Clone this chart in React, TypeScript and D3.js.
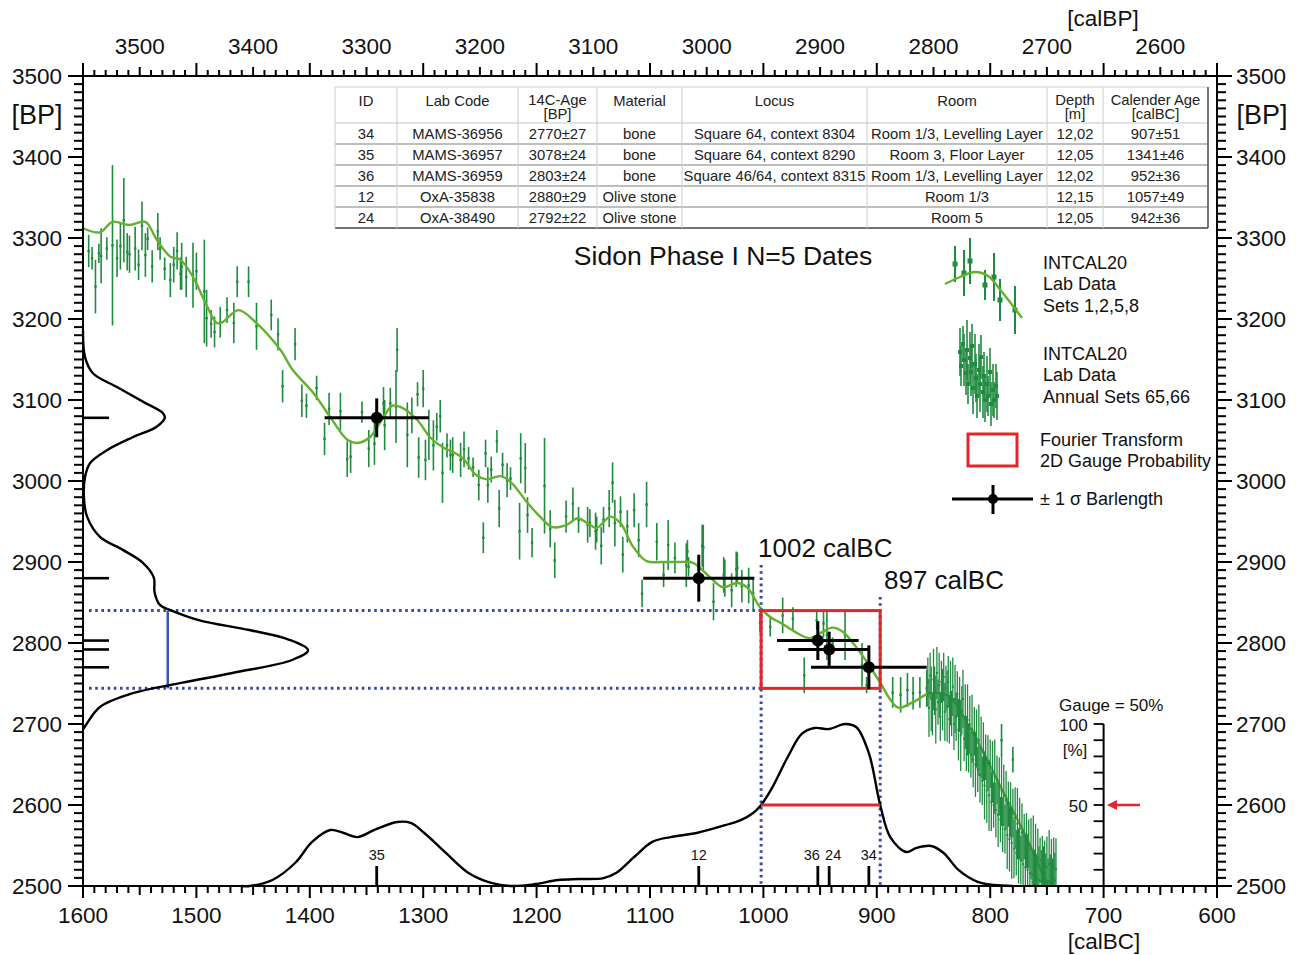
import React from 'react';
import * as d3 from 'd3';

const W = 1303, H = 955;
const FONT = "'Liberation Sans', Arial, Helvetica, sans-serif";

// ---------- axis labels ----------
const calBCTicks = [1600, 1500, 1400, 1300, 1200, 1100, 1000, 900, 800, 700, 600];
const calBPTicks = [3500, 3400, 3300, 3200, 3100, 3000, 2900, 2800, 2700, 2600];
const bpTicks = [2500, 2600, 2700, 2800, 2900, 3000, 3100, 3200, 3300, 3400, 3500];
const gaugeLabels = [100, 50];

// ---------- INTCAL20 smoothed curve ----------
const curveBC = [1600, 1585, 1574, 1559, 1545, 1535, 1523, 1514, 1503, 1492, 1482, 1477, 1463, 1447, 1426, 1415, 1397, 1382, 1367, 1358, 1347, 1335, 1327, 1318, 1305, 1294, 1282, 1274, 1265, 1253, 1244, 1232, 1223, 1208, 1197, 1186, 1173, 1164, 1153, 1147, 1135, 1126, 1115, 1103, 1089, 1074, 1062, 1047, 1036, 1023, 1014, 1003, 994, 985, 970, 959, 950, 939, 930, 921, 908, 897, 888, 881, 868, 854, 844, 835, 822, 805, 787, 769, 756, 749];
const curveBP = [3312, 3307, 3320, 3316, 3320, 3298, 3277, 3273, 3252, 3220, 3195, 3196, 3211, 3195, 3162, 3137, 3109, 3079, 3051, 3047, 3054, 3079, 3093, 3090, 3075, 3054, 3041, 3036, 3028, 3007, 3002, 3006, 2999, 2973, 2956, 2943, 2946, 2954, 2946, 2942, 2956, 2948, 2919, 2901, 2900, 2900, 2899, 2881, 2869, 2874, 2868, 2844, 2832, 2825, 2812, 2806, 2812, 2819, 2814, 2800, 2775, 2751, 2730, 2720, 2727, 2738, 2738, 2733, 2705, 2662, 2612, 2563, 2522, 2502];

// ---------- INTCAL20 lab data sets 1,2,5,8: [calBC, BP, 1 sigma] ----------
const labSets: [number, number, number][] = [
  [1595, 3284, 20], [1592, 3275, 14], [1589, 3240, 33], [1586, 3281, 12], [1584, 3278, 34], [1579, 3287, 14],
  [1574, 3291, 99], [1570, 3275, 23], [1567, 3290, 29], [1564, 3322, 52], [1561, 3283, 23], [1559, 3280, 23],
  [1554, 3287, 27], [1551, 3267, 19], [1548, 3315, 30], [1545, 3279, 27], [1543, 3299, 14], [1539, 3265, 20],
  [1534, 3308, 23], [1532, 3287, 14], [1528, 3262, 14], [1523, 3248, 21], [1520, 3267, 22], [1517, 3284, 23],
  [1514, 3256, 20], [1513, 3265, 29], [1509, 3252, 25], [1503, 3254, 40], [1500, 3259, 23], [1493, 3234, 64],
  [1491, 3201, 35], [1487, 3194, 17], [1484, 3184, 19], [1479, 3196, 19], [1473, 3211, 16], [1467, 3195, 25],
  [1464, 3246, 19], [1454, 3246, 19], [1447, 3191, 29], [1434, 3205, 19], [1428, 3181, 20], [1413, 3169, 20],
  [1424, 3117, 20], [1407, 3099, 20], [1403, 3093, 15], [1394, 3115, 15], [1387, 3052, 20], [1383, 3089, 20],
  [1373, 3086, 23], [1367, 3027, 22], [1364, 3030, 20], [1354, 3085, 13], [1348, 3040, 23], [1343, 3046, 26],
  [1335, 3096, 20], [1334, 3069, 31], [1329, 3096, 19], [1324, 3092, 45], [1323, 3162, 27], [1314, 3057, 40],
  [1310, 3081, 22], [1305, 3107, 15], [1300, 3114, 23], [1304, 3029, 25], [1298, 3026, 25], [1295, 3057, 31],
  [1291, 3044, 31], [1288, 3067, 17], [1285, 3080, 20], [1283, 3010, 37], [1279, 3044, 15], [1276, 3032, 19],
  [1274, 3032, 22], [1267, 3026, 21], [1264, 3039, 22], [1260, 3028, 14], [1256, 3017, 12], [1251, 2995, 19],
  [1247, 2930, 19], [1245, 3034, 17], [1243, 2995, 22], [1240, 3014, 16], [1235, 3049, 14], [1233, 2966, 23],
  [1230, 3020, 15], [1226, 3001, 21], [1223, 3003, 14], [1215, 2938, 35], [1214, 3028, 31], [1210, 3016, 31],
  [1208, 2958, 22], [1204, 2924, 18], [1193, 2994, 59], [1188, 2941, 23], [1184, 2902, 22], [1174, 2956, 20],
  [1168, 2972, 20], [1163, 2952, 16], [1155, 2946, 22], [1153, 2948, 17], [1148, 2938, 23], [1147, 2940, 16],
  [1143, 2920, 23], [1141, 2952, 16], [1136, 2966, 23], [1133, 2998, 25], [1131, 2948, 29], [1126, 2962, 19],
  [1124, 2909, 22], [1120, 2944, 20], [1114, 2964, 21], [1110, 2927, 21], [1107, 2861, 17], [1103, 2971, 28],
  [1094, 2925, 23], [1088, 2884, 15], [1084, 2921, 31], [1078, 2905, 19], [1068, 2896, 27], [1066, 2894, 12],
  [1054, 2920, 26], [1044, 2851, 23], [1034, 2880, 23], [1028, 2865, 21], [1024, 2891, 22], [1019, 2870, 20],
  [1009, 2861, 20], [1067, 2913, 14], [1053, 2918, 28], [1035, 2884, 22], [1023, 2893, 19], [1013, 2871, 22],
  [1003, 2825, 12], [994, 2820, 12], [983, 2834, 22], [974, 2830, 14], [964, 2760, 22], [953, 2828, 12],
  [947, 2824, 17], [944, 2810, 31], [939, 2799, 8], [928, 2810, 31], [913, 2773, 27], [909, 2748, 10],
  [886, 2739, 19], [879, 2736, 22], [873, 2742, 21], [868, 2738, 20], [862, 2739, 19], [856, 2744, 23],
  [790, 2680, 20], [780, 2656, 16],
];

// ---------- INTCAL20 annual sets 65,66: [calBC, BP, 1 sigma] ----------
const annualSets: [number, number, number][] = [
  [855, 2752, 30], [854, 2720, 36], [853, 2760, 28], [852, 2731, 40], [851, 2712, 26], [850, 2755, 38], [849, 2741, 30],
  [848, 2718, 42], [847, 2763, 32], [846, 2727, 28], [845, 2748, 40], [844, 2709, 30], [843, 2752, 26], [842, 2730, 38],
  [841, 2758, 30], [840, 2715, 36], [839, 2744, 28], [838, 2722, 44], [837, 2752, 32], [836, 2706, 30], [835, 2738, 40],
  [834, 2713, 28], [833, 2746, 36], [832, 2700, 32], [831, 2731, 42], [830, 2709, 30], [829, 2737, 28], [828, 2693, 38],
  [827, 2724, 34], [826, 2686, 44], [825, 2717, 30], [824, 2731, 36], [823, 2682, 28], [822, 2709, 40], [821, 2676, 34],
  [820, 2705, 44], [819, 2670, 30], [818, 2699, 36], [817, 2662, 28], [816, 2694, 42], [815, 2656, 34], [814, 2691, 30],
  [813, 2650, 40], [812, 2682, 36], [811, 2644, 28], [810, 2680, 44], [809, 2637, 34], [808, 2671, 38], [807, 2630, 30],
  [806, 2666, 36], [805, 2624, 42], [804, 2659, 28], [803, 2618, 40], [802, 2652, 34], [801, 2612, 44], [800, 2651, 30],
  [799, 2604, 36], [798, 2641, 38], [797, 2600, 28], [796, 2635, 46], [795, 2594, 34], [794, 2631, 30], [793, 2588, 40],
  [792, 2623, 36], [791, 2582, 28], [790, 2618, 44], [789, 2576, 34], [788, 2612, 38], [787, 2570, 30], [786, 2606, 36],
  [785, 2563, 42], [784, 2601, 28], [783, 2558, 40], [782, 2594, 34], [781, 2553, 44], [780, 2590, 30], [779, 2546, 36],
  [778, 2584, 38], [777, 2541, 28], [776, 2577, 44], [775, 2537, 34], [774, 2571, 38], [773, 2532, 30], [772, 2566, 36],
  [771, 2527, 42], [770, 2561, 28], [769, 2523, 40], [768, 2556, 34], [767, 2520, 44], [766, 2552, 30], [765, 2516, 36],
  [764, 2546, 38], [763, 2514, 28], [762, 2543, 44], [761, 2511, 34], [760, 2539, 38], [759, 2509, 30], [758, 2535, 36],
  [757, 2507, 42], [756, 2532, 28], [755, 2506, 38], [754, 2528, 34], [753, 2505, 44], [752, 2526, 30], [751, 2504, 36],
  [750, 2523, 38], [749, 2506, 28], [748, 2527, 42], [747, 2505, 34], [746, 2520, 38], [745, 2504, 30], [744, 2524, 36],
  [743, 2507, 34], [742, 2521, 38],
];

// ---------- dates ----------
const dateIds = ['34', '35', '36', '12', '24'];
const labCodes = ['MAMS-36956', 'MAMS-36957', 'MAMS-36959', 'OxA-35838', 'OxA-38490'];
const c14Age = [2770, 3078, 2803, 2880, 2792];
const c14Err = [27, 24, 24, 29, 22];
const materials = ['bone', 'bone', 'bone', 'Olive stone', 'Olive stone'];
const loci = ['Square 64, context 8304', 'Square 64, context 8290', 'Square 46/64, context 8315', '', ''];
const rooms = ['Room 1/3, Levelling Layer', 'Room 3, Floor Layer', 'Room 1/3, Levelling Layer', 'Room 1/3', 'Room 5'];
const depths = ['12,02', '12,05', '12,02', '12,15', '12,05'];
const calAge = [907, 1341, 952, 1057, 942];
const calErr = [51, 46, 36, 49, 36];
const headers = [['ID'], ['Lab Code'], ['14C-Age', '[BP]'], ['Material'], ['Locus'], ['Room'], ['Depth', '[m]'], ['Calender Age', '[calBC]']];

// ---------- summed 14C probability (left, % of max) ----------
const leftBP = [3186, 3153, 3133, 3116, 3098, 3084, 3078, 3067, 3054, 3038, 3022, 3005, 2980, 2956, 2931, 2915, 2899, 2881, 2862, 2847, 2841, 2828, 2816, 2804, 2791, 2779, 2763, 2751, 2738, 2721, 2701, 2693];
const leftPct = [0, 0.9, 4.4, 15.0, 26.5, 35.3, 36.2, 32.6, 22.0, 10.6, 3.1, 0.9, 0.4, 1.8, 7.5, 17.6, 26.5, 31.3, 31.7, 34.0, 38.4, 51.6, 73.6, 91.3, 99.6, 92.5, 66.1, 44.1, 22.0, 7.5, 1.8, 0];

// ---------- Fourier gauge probability (bottom, %) ----------
const sumBC = [1460, 1453, 1433, 1413, 1398, 1382, 1370, 1358, 1343, 1323, 1311, 1299, 1280, 1260, 1240, 1221, 1201, 1181, 1162, 1141, 1130, 1114, 1098, 1082, 1059, 1033, 1020, 1009, 1002, 992, 979, 966, 955, 942, 928, 918, 907, 897, 888, 874, 865, 852, 841, 828, 811, 797, 780];
const sumPct = [0, 0, 3.7, 14.2, 27.2, 34.6, 32.7, 30.2, 34.6, 39.5, 38.9, 32.7, 20.4, 8.0, 1.9, 0, 1.2, 3.7, 4.3, 4.9, 8.0, 17.9, 27.2, 30.2, 32.7, 37.7, 40.7, 45.1, 50, 61, 79, 94, 97.5, 96.9, 100, 98, 82, 50, 30, 21, 23.5, 24.7, 20.4, 9.9, 2.5, 0.6, 0];

const rangeBC = [1002, 897];
const rangeBP = [2840, 2744];
const gaugeValue = 50;
const blueLineBP = [2840, 2744];
const blueLinePct = 37.5;

// ---------- legend icon samples (pixel layout of the legend glyphs) ----------
const legendSetBars: [number, number, number][] = [
  [955, 264, 18], [964, 273, 23], [970, 261, 23], [985, 285, 15], [994, 277, 24], [1000, 300, 21], [1015, 310, 24],
];
const legendSetCurve: [number, number][] = [[945, 284], [960, 277], [975, 272], [988, 276], [1002, 292], [1022, 318]];
const legendAnnual: [number, number, number][] = [
  [960, 352, 24], [961, 366, 20], [963, 344, 18], [964, 360, 26], [966, 373, 22], [967, 350, 30], [968, 384, 20],
  [970, 358, 26], [971, 372, 24], [972, 346, 22], [973, 388, 26], [975, 364, 30], [976, 378, 24], [977, 396, 22],
  [979, 370, 26], [980, 384, 28], [981, 357, 22], [983, 392, 26], [984, 376, 24], [985, 400, 22], [987, 384, 28],
  [988, 396, 20], [990, 372, 24], [991, 404, 22], [993, 390, 26], [994, 400, 18], [996, 386, 22], [997, 396, 24],
];

const GREEN = '#1f8b3f';
const LIME = '#62b22f';
const RED = '#e3262a';
const BLUE = '#3a47a6';

export default function App() {
  const L = 83, R = 1217, T = 76, B = 886;
  const x = d3.scaleLinear().domain([1600, 600]).range([L, R]);
  const xTop = d3.scaleLinear().domain([3550, 2550]).range([L, R]);
  const y = d3.scaleLinear().domain([2500, 3500]).range([B, T]);
  const dens = d3.scaleLinear().domain([0, 100]).range([L, 309]);
  const yG = d3.scaleLinear().domain([0, 100]).range([B, 724]);

  const calLine = d3.line<number>().x((_, i) => x(curveBC[i])).y((_, i) => y(curveBP[i])).curve(d3.curveCatmullRom.alpha(0.5));
  const leftLine = d3.line<number>().x((_, i) => dens(leftPct[i])).y((_, i) => y(leftBP[i])).curve(d3.curveCatmullRom.alpha(0.5));
  const sumLine = d3.line<number>().x((_, i) => x(sumBC[i])).y((_, i) => yG(sumPct[i])).curve(d3.curveCatmullRom.alpha(0.5));
  const legLine = d3.line<[number, number]>().x(d => d[0]).y(d => d[1]).curve(d3.curveCatmullRom.alpha(0.5));

  const minorBC = d3.range(600, 1601, 10);
  const minorBP = d3.range(2500, 3501, 10);

  const txt = (props: any, s: string) => <text fontFamily={FONT} {...props}>{s}</text>;

  const colX = [335, 397, 518, 597, 682, 867, 1047, 1103, 1208];
  const headTop = 87, headBot = 123, rowH = 21;
  const rows = dateIds.map((id, i) => [id, labCodes[i], `${c14Age[i]}±${c14Err[i]}`, materials[i], loci[i], rooms[i], depths[i], `${calAge[i]}±${calErr[i]}`]);

  const labelOffsets: Record<string, number> = { '36': -6, '24': 4 };

  return (
    <svg width={W} height={H} viewBox={`0 0 ${W} ${H}`} style={{ position: 'absolute', left: 0, top: 0, background: '#fff' }}>
      <defs>
        <clipPath id="plot"><rect x={L} y={T} width={R - L} height={B - T} /></clipPath>
      </defs>
      <rect x={0} y={0} width={W} height={H} fill="#fff" />

      {/* table */}
      <g fontFamily={FONT} fontSize={14.8} fill="#222">
        <line x1={colX[0]} x2={colX[8]} y1={headTop} y2={headTop} stroke="#cfcfcf" strokeWidth={1.2} />
        <line x1={colX[0]} x2={colX[8]} y1={headBot} y2={headBot} stroke="#c8c8c8" strokeWidth={1.2} />
        {rows.map((_, i) => i < rows.length - 1 ? (
          <line key={'rl' + i} x1={colX[0]} x2={colX[8]} y1={headBot + rowH * (i + 1)} y2={headBot + rowH * (i + 1)} stroke="#a8a8a8" strokeWidth={1.6} />
        ) : null)}
        <line x1={colX[0]} x2={colX[8]} y1={headBot + rowH * 5} y2={headBot + rowH * 5} stroke="#444" strokeWidth={1.6} />
        {colX.map((cx, i) => (
          <line key={'cl' + i} x1={cx} x2={cx} y1={headTop} y2={headBot + rowH * 5} stroke={i === 8 ? '#555' : '#d0d0d0'} strokeWidth={i === 8 ? 1.6 : 1.1} />
        ))}
        {headers.map((h, i) => {
          const cx = (colX[i] + colX[i + 1]) / 2;
          return h.length === 1
            ? <text key={'h' + i} x={cx} y={101} textAnchor="middle" dominantBaseline="central">{h[0]}</text>
            : <g key={'h' + i}>
                <text x={cx} y={100} textAnchor="middle" dominantBaseline="central">{h[0]}</text>
                <text x={cx} y={114} textAnchor="middle" dominantBaseline="central">{h[1]}</text>
              </g>;
        })}
        {rows.map((r, i) => r.map((c, j) => (
          <text key={`c${i}-${j}`} x={(colX[j] + colX[j + 1]) / 2} y={headBot + rowH * i + rowH / 2 + 0.5} textAnchor="middle" dominantBaseline="central">{c}</text>
        )))}
      </g>

      {/* title */}
      {txt({ x: 723, y: 256, fontSize: 26.5, textAnchor: 'middle', dominantBaseline: 'central', fill: '#111' }, 'Sidon Phase I N=5 Dates')}

      {/* data bars */}
      <g clipPath="url(#plot)">
        {labSets.map((d, i) => (
          <g key={'ls' + i}>
            <line x1={x(d[0])} x2={x(d[0])} y1={y(d[1] - d[2])} y2={y(d[1] + d[2])} stroke={GREEN} strokeWidth={1.6} />
            <rect x={x(d[0]) - 1.2} y={y(d[1]) - 1.2} width={2.4} height={2.4} fill={GREEN} />
          </g>
        ))}
        <path d={calLine(curveBC) || ''} fill="none" stroke={LIME} strokeWidth={2.4} />
        {annualSets.map((d, i) => (
          <g key={'an' + i}>
            <line x1={x(d[0])} x2={x(d[0])} y1={y(d[1] - d[2])} y2={y(d[1] + d[2])} stroke={GREEN} strokeWidth={1.3} />
            <rect x={x(d[0]) - 1} y={y(d[1]) - 1} width={2} height={2} fill={GREEN} />
          </g>
        ))}
      </g>

      {/* dotted range lines */}
      {rangeBP.map((v, i) => (
        <line key={'hd' + i} x1={L + 6} x2={x(rangeBC[0])} y1={y(v)} y2={y(v)} stroke={BLUE} strokeWidth={3} strokeDasharray="2.6 3.6" />
      ))}
      <line x1={x(rangeBC[0])} x2={x(rangeBC[0])} y1={565} y2={B} stroke={BLUE} strokeWidth={3} strokeDasharray="2.6 3.6" />
      <line x1={x(rangeBC[1])} x2={x(rangeBC[1])} y1={597} y2={B} stroke={BLUE} strokeWidth={3} strokeDasharray="2.6 3.6" />
      <rect x={x(rangeBC[0])} y={y(rangeBP[0])} width={x(rangeBC[1]) - x(rangeBC[0])} height={y(rangeBP[1]) - y(rangeBP[0])} fill="none" stroke={RED} strokeWidth={3} />
      <line x1={dens(blueLinePct)} x2={dens(blueLinePct)} y1={y(blueLineBP[0])} y2={y(blueLineBP[1])} stroke="#3a55b0" strokeWidth={2.5} />

      {txt({ x: 758, y: 548, fontSize: 26, dominantBaseline: 'central', fill: '#111' }, `${rangeBC[0]} calBC`)}
      {txt({ x: 884, y: 580, fontSize: 26, dominantBaseline: 'central', fill: '#111' }, `${rangeBC[1]} calBC`)}

      {/* left probability curve */}
      <path d={leftLine(leftBP) || ''} fill="none" stroke="#000" strokeWidth={2.4} />
      {c14Age.map((v, i) => (
        <line key={'lt' + i} x1={L} x2={L + 26} y1={y(v)} y2={y(v)} stroke="#000" strokeWidth={2.6} />
      ))}

      {/* bottom probability curve */}
      <path d={sumLine(sumBC) || ''} fill="none" stroke="#000" strokeWidth={2.4} />
      <line x1={x(rangeBC[0])} x2={x(rangeBC[1])} y1={yG(gaugeValue)} y2={yG(gaugeValue)} stroke={RED} strokeWidth={3} />
      {calAge.map((v, i) => (
        <g key={'bt' + i}>
          <line x1={x(v)} x2={x(v)} y1={B} y2={B - 20} stroke="#000" strokeWidth={2.8} />
          {txt({ x: x(v) + (labelOffsets[dateIds[i]] || 0), y: B - 31, fontSize: 14.5, textAnchor: 'middle', dominantBaseline: 'central', fill: '#111' }, dateIds[i])}
        </g>
      ))}

      {/* date crosses */}
      {calAge.map((v, i) => (
        <g key={'cr' + i}>
          <line x1={x(v + calErr[i])} x2={x(v - calErr[i])} y1={y(c14Age[i])} y2={y(c14Age[i])} stroke="#000" strokeWidth={3} />
          <line x1={x(v)} x2={x(v)} y1={y(c14Age[i] - c14Err[i])} y2={y(c14Age[i] + c14Err[i])} stroke="#000" strokeWidth={3} />
          <circle cx={x(v)} cy={y(c14Age[i])} r={6} fill="#000" />
        </g>
      ))}

      {/* gauge axis */}
      <line x1={x(700)} x2={x(700)} y1={yG(100)} y2={yG(0)} stroke="#000" strokeWidth={2} />
      {d3.range(0, 101, 10).map(v => (
        <line key={'g' + v} x1={x(700) - 10} x2={x(700)} y1={yG(v)} y2={yG(v)} stroke="#000" strokeWidth={1.8} />
      ))}
      {gaugeLabels.map(v => txt({ key: 'gl' + v, x: x(700) - 16, y: yG(v) + 1, fontSize: 17, textAnchor: 'end', dominantBaseline: 'central', fill: '#111' }, String(v)))}
      {txt({ x: 1075, y: 750, fontSize: 17, textAnchor: 'middle', dominantBaseline: 'central', fill: '#111' }, '[%]')}
      {txt({ x: 1059, y: 705, fontSize: 17, dominantBaseline: 'central', fill: '#111' }, `Gauge = ${gaugeValue}%`)}
      <line x1={1140} x2={1115} y1={yG(gaugeValue)} y2={yG(gaugeValue)} stroke={RED} strokeWidth={2.5} />
      <path d={`M${1107},${yG(gaugeValue)} L${1117},${yG(gaugeValue) - 5} L${1117},${yG(gaugeValue) + 5} Z`} fill={RED} />

      {/* legend */}
      <g>
        {legendSetBars.map((d, i) => (
          <g key={'lb' + i}>
            <line x1={d[0]} x2={d[0]} y1={d[1] - d[2]} y2={d[1] + d[2]} stroke={GREEN} strokeWidth={2} />
            <rect x={d[0] - 2.5} y={d[1] - 2.5} width={5} height={5} fill={GREEN} />
          </g>
        ))}
        <path d={legLine(legendSetCurve) || ''} fill="none" stroke={LIME} strokeWidth={2.4} />
        {legendAnnual.map((d, i) => (
          <g key={'la' + i}>
            <line x1={d[0]} x2={d[0]} y1={d[1] - d[2]} y2={d[1] + d[2]} stroke={GREEN} strokeWidth={1.6} />
            <rect x={d[0] - 2} y={d[1] - 2} width={4} height={4} fill={GREEN} />
          </g>
        ))}
        <rect x={968} y={434} width={49} height={32} fill="none" stroke={RED} strokeWidth={3} />
        <line x1={952} x2={1033} y1={499} y2={499} stroke="#000" strokeWidth={3} />
        <line x1={993} x2={993} y1={485} y2={514} stroke="#000" strokeWidth={3} />
        <circle cx={993} cy={499} r={5} fill="#000" />
        <g fontFamily={FONT} fontSize={18} fill="#111">
          <text x={1043} y={263} dominantBaseline="central">INTCAL20</text>
          <text x={1043} y={284} dominantBaseline="central">Lab Data</text>
          <text x={1043} y={306} dominantBaseline="central">Sets 1,2,5,8</text>
          <text x={1043} y={354} dominantBaseline="central">INTCAL20</text>
          <text x={1043} y={375} dominantBaseline="central">Lab Data</text>
          <text x={1043} y={397} dominantBaseline="central">Annual Sets 65,66</text>
          <text x={1040} y={440} dominantBaseline="central">Fourier Transform</text>
          <text x={1040} y={461} dominantBaseline="central">2D Gauge Probability</text>
          <text x={1040} y={499} dominantBaseline="central">± 1 σ Barlength</text>
        </g>
      </g>

      {/* axes frame */}
      <g stroke="#000">
        <line x1={L} x2={R} y1={T} y2={T} strokeWidth={2} />
        <line x1={L} x2={R} y1={B} y2={B} strokeWidth={2} />
        <line x1={L} x2={L} y1={T} y2={B} strokeWidth={2} />
        <line x1={R} x2={R} y1={T} y2={B} strokeWidth={2} />
        {minorBC.map(v => {
          const major = v % 100 === 0, mid = v % 50 === 0;
          const lb = major ? 12 : mid ? 9 : 7;
          const lt = major ? 13 : mid ? 9 : 6;
          return (
            <g key={'xt' + v}>
              <line x1={x(v)} x2={x(v)} y1={B} y2={B + lb} strokeWidth={2} />
              <line x1={x(v)} x2={x(v)} y1={T} y2={T - lt} strokeWidth={2} />
            </g>
          );
        })}
        {minorBP.map(v => {
          const major = v % 100 === 0;
          const l = major ? 15 : 9;
          return (
            <g key={'yt' + v}>
              <line x1={L - l} x2={L} y1={y(v)} y2={y(v)} strokeWidth={2} />
              <line x1={R} x2={R + l} y1={y(v)} y2={y(v)} strokeWidth={2} />
            </g>
          );
        })}
      </g>

      <g fontFamily={FONT} fontSize={22.5} fill="#111">
        {calBCTicks.map(v => <text key={'bl' + v} x={x(v)} y={915} textAnchor="middle" dominantBaseline="central">{v}</text>)}
        {calBPTicks.map(v => <text key={'tl' + v} x={xTop(v)} y={46} textAnchor="middle" dominantBaseline="central">{v}</text>)}
        {bpTicks.map(v => <text key={'ll' + v} x={62} y={y(v)} textAnchor="end" dominantBaseline="central">{v}</text>)}
        {bpTicks.map(v => <text key={'rl' + v} x={1236} y={y(v)} textAnchor="start" dominantBaseline="central">{v}</text>)}
        <text x={1104} y={941} textAnchor="middle" dominantBaseline="central" fontSize={22.5}>[calBC]</text>
        <text x={1103} y={18} textAnchor="middle" dominantBaseline="central" fontSize={22.5}>[calBP]</text>
        <text x={37} y={115} textAnchor="middle" dominantBaseline="central" fontSize={27}>[BP]</text>
        <text x={1262} y={115} textAnchor="middle" dominantBaseline="central" fontSize={27}>[BP]</text>
      </g>
    </svg>
  );
}
